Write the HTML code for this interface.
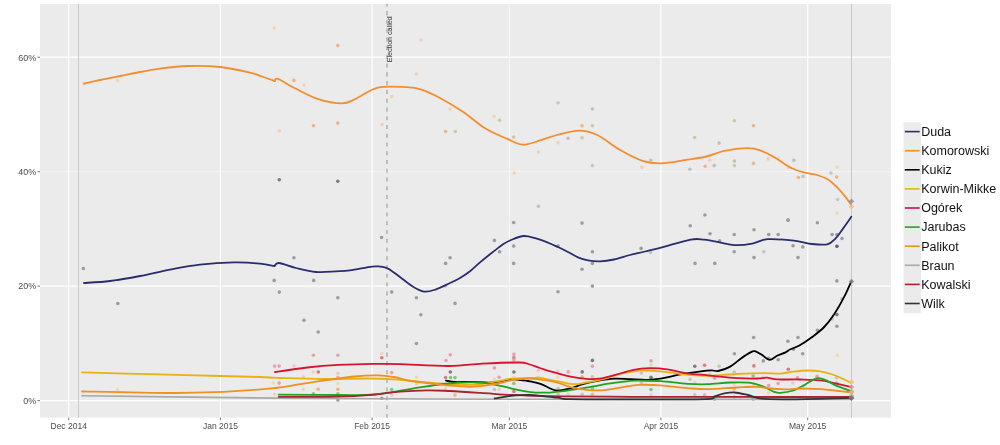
<!DOCTYPE html>
<html><head><meta charset="utf-8"><style>
html,body{margin:0;padding:0;background:#fff;width:1000px;height:445px;overflow:hidden}
svg{display:block;font-family:"Liberation Sans",sans-serif;will-change:transform}
</style></head><body>
<svg width="1000" height="445" viewBox="0 0 1000 445">
<rect x="40" y="4" width="851" height="413.6" fill="#ebebeb"/>
<line x1="40" x2="891" y1="400.6" y2="400.6" stroke="#fff" stroke-width="1.2"/>
<line x1="40" x2="891" y1="286.1" y2="286.1" stroke="#fff" stroke-width="1.2"/>
<line x1="40" x2="891" y1="171.7" y2="171.7" stroke="#f3f3f3" stroke-width="1.2"/>
<line x1="40" x2="891" y1="57.2" y2="57.2" stroke="#fff" stroke-width="1.2"/>
<line y1="4" y2="417.6" x1="68.7" x2="68.7" stroke="#fff" stroke-width="1.2"/>
<line y1="4" y2="417.6" x1="220.4" x2="220.4" stroke="#fff" stroke-width="1.2"/>
<line y1="4" y2="417.6" x1="372.1" x2="372.1" stroke="#fff" stroke-width="1.2"/>
<line y1="4" y2="417.6" x1="509.4" x2="509.4" stroke="#f5f5f5" stroke-width="1.2"/>
<line y1="4" y2="417.6" x1="660.9" x2="660.9" stroke="#fff" stroke-width="1.2"/>
<line y1="4" y2="417.6" x1="807.7" x2="807.7" stroke="#fff" stroke-width="1.2"/>
<line y1="4" y2="417.6" x1="78.5" x2="78.5" stroke="#c8c8c8" stroke-width="1"/>
<line y1="4" y2="417.6" x1="851.5" x2="851.5" stroke="#c8c8c8" stroke-width="1"/>
<line y1="4" y2="417.6" x1="387" x2="387" stroke="#999" stroke-width="1.1" stroke-dasharray="4.1,4.657" stroke-dashoffset="1.7"/>
<text transform="translate(392.3,62.3) rotate(-90)" font-size="7.1" fill="#4a4a4a" stroke="#4a4a4a" stroke-width="0.1" textLength="46" lengthAdjust="spacingAndGlyphs">Election called</text>
<circle cx="84.0" cy="83.6" r="1.8" fill="#f0d2b6"/>
<circle cx="117.6" cy="389.6" r="1.8" fill="#ebdcaa"/>
<circle cx="83.8" cy="392.0" r="1.8" fill="#f0d2b6"/>
<circle cx="117.5" cy="80.4" r="1.8" fill="#f0d2b6"/>
<circle cx="274.3" cy="28.0" r="1.8" fill="#f0d2b6"/>
<circle cx="337.8" cy="45.6" r="1.8" fill="#f2b286"/>
<circle cx="293.9" cy="80.4" r="1.8" fill="#f2b286"/>
<circle cx="304.0" cy="85.3" r="1.8" fill="#f0d2b6"/>
<circle cx="420.9" cy="40.0" r="1.8" fill="#f0d2b6"/>
<circle cx="416.4" cy="74.1" r="1.8" fill="#f0d2b6"/>
<circle cx="391.7" cy="96.6" r="1.8" fill="#f0d2b6"/>
<circle cx="279.3" cy="131.0" r="1.8" fill="#f0d2b6"/>
<circle cx="313.5" cy="125.8" r="1.8" fill="#f2b286"/>
<circle cx="337.8" cy="123.1" r="1.8" fill="#f2b286"/>
<circle cx="382.0" cy="124.7" r="1.8" fill="#f0d2b6"/>
<circle cx="279.3" cy="179.8" r="1.8" fill="#7c7c7c"/>
<circle cx="337.8" cy="181.3" r="1.8" fill="#7c7c7c"/>
<circle cx="450.1" cy="109.0" r="1.8" fill="#f0d2b6"/>
<circle cx="445.6" cy="131.5" r="1.8" fill="#f2b286"/>
<circle cx="455.3" cy="131.5" r="1.8" fill="#cec7a6"/>
<circle cx="494.0" cy="116.2" r="1.8" fill="#ebdcaa"/>
<circle cx="499.6" cy="120.2" r="1.8" fill="#cec7a6"/>
<circle cx="513.7" cy="137.1" r="1.8" fill="#cec7a6"/>
<circle cx="558.0" cy="102.7" r="1.8" fill="#cec7a6"/>
<circle cx="592.4" cy="109.0" r="1.8" fill="#c2bfbb"/>
<circle cx="582.0" cy="125.8" r="1.8" fill="#f2b286"/>
<circle cx="592.4" cy="125.8" r="1.8" fill="#cec7a6"/>
<circle cx="558.0" cy="142.7" r="1.8" fill="#f0d2b6"/>
<circle cx="568.1" cy="138.2" r="1.8" fill="#c2bfbb"/>
<circle cx="582.0" cy="137.8" r="1.8" fill="#cec7a6"/>
<circle cx="538.4" cy="152.1" r="1.8" fill="#f0d2b6"/>
<circle cx="592.4" cy="165.6" r="1.8" fill="#cec7a6"/>
<circle cx="514.2" cy="173.0" r="1.8" fill="#f0d2b6"/>
<circle cx="734.4" cy="120.7" r="1.8" fill="#cec7a6"/>
<circle cx="753.5" cy="125.8" r="1.8" fill="#f2b286"/>
<circle cx="694.6" cy="137.5" r="1.8" fill="#cec7a6"/>
<circle cx="719.1" cy="143.1" r="1.8" fill="#c2bfbb"/>
<circle cx="650.8" cy="160.2" r="1.8" fill="#c2bfbb"/>
<circle cx="641.8" cy="167.4" r="1.8" fill="#f0d2b6"/>
<circle cx="689.9" cy="169.2" r="1.8" fill="#c2bfbb"/>
<circle cx="705.2" cy="166.3" r="1.8" fill="#f2b286"/>
<circle cx="709.7" cy="160.2" r="1.8" fill="#f0d2b6"/>
<circle cx="714.2" cy="165.6" r="1.8" fill="#c2bfbb"/>
<circle cx="734.4" cy="161.1" r="1.8" fill="#c2bfbb"/>
<circle cx="734.4" cy="165.6" r="1.8" fill="#cec7a6"/>
<circle cx="753.5" cy="163.4" r="1.8" fill="#f2b286"/>
<circle cx="768.1" cy="158.9" r="1.8" fill="#f0d2b6"/>
<circle cx="778.2" cy="158.0" r="1.8" fill="#f0d2b6"/>
<circle cx="788.3" cy="167.4" r="1.8" fill="#f0d2b6"/>
<circle cx="793.9" cy="160.2" r="1.8" fill="#c2bfbb"/>
<circle cx="798.4" cy="177.5" r="1.8" fill="#f2b286"/>
<circle cx="802.9" cy="176.4" r="1.8" fill="#c4c4c4"/>
<circle cx="831.0" cy="173.0" r="1.8" fill="#c4c4c4"/>
<circle cx="837.3" cy="167.0" r="1.8" fill="#ebdcaa"/>
<circle cx="836.7" cy="177.0" r="1.8" fill="#f2b286"/>
<circle cx="837.6" cy="199.5" r="1.8" fill="#c4c4c4"/>
<circle cx="837.2" cy="213.0" r="1.8" fill="#f0d2b6"/>
<circle cx="788.0" cy="220.1" r="1.8" fill="#9c9c9c"/>
<circle cx="817.4" cy="222.8" r="1.8" fill="#9c9c9c"/>
<circle cx="83.4" cy="268.5" r="1.8" fill="#9c9c9c"/>
<circle cx="117.8" cy="303.5" r="1.8" fill="#9c9c9c"/>
<circle cx="381.6" cy="237.5" r="1.8" fill="#9c9c9c"/>
<circle cx="293.9" cy="257.8" r="1.8" fill="#9c9c9c"/>
<circle cx="274.2" cy="280.4" r="1.8" fill="#9c9c9c"/>
<circle cx="313.7" cy="280.4" r="1.8" fill="#9c9c9c"/>
<circle cx="279.3" cy="292.1" r="1.8" fill="#9c9c9c"/>
<circle cx="337.8" cy="297.8" r="1.8" fill="#9c9c9c"/>
<circle cx="391.7" cy="292.1" r="1.8" fill="#9c9c9c"/>
<circle cx="416.4" cy="297.8" r="1.8" fill="#9c9c9c"/>
<circle cx="304.0" cy="320.3" r="1.8" fill="#9c9c9c"/>
<circle cx="318.2" cy="332.0" r="1.8" fill="#9c9c9c"/>
<circle cx="420.9" cy="314.7" r="1.8" fill="#9c9c9c"/>
<circle cx="416.4" cy="343.5" r="1.8" fill="#9c9c9c"/>
<circle cx="538.4" cy="206.3" r="1.8" fill="#c2bfbb"/>
<circle cx="513.7" cy="222.5" r="1.8" fill="#9c9c9c"/>
<circle cx="582.0" cy="223.1" r="1.8" fill="#9c9c9c"/>
<circle cx="494.4" cy="240.4" r="1.8" fill="#9c9c9c"/>
<circle cx="513.7" cy="246.1" r="1.8" fill="#9c9c9c"/>
<circle cx="499.6" cy="251.7" r="1.8" fill="#9c9c9c"/>
<circle cx="558.0" cy="246.1" r="1.8" fill="#9c9c9c"/>
<circle cx="450.1" cy="257.8" r="1.8" fill="#9c9c9c"/>
<circle cx="445.6" cy="263.4" r="1.8" fill="#9c9c9c"/>
<circle cx="513.7" cy="263.4" r="1.8" fill="#9c9c9c"/>
<circle cx="592.4" cy="251.7" r="1.8" fill="#9c9c9c"/>
<circle cx="592.4" cy="263.4" r="1.8" fill="#9c9c9c"/>
<circle cx="582.0" cy="269.2" r="1.8" fill="#9c9c9c"/>
<circle cx="592.4" cy="286.1" r="1.8" fill="#9c9c9c"/>
<circle cx="558.0" cy="291.7" r="1.8" fill="#9c9c9c"/>
<circle cx="445.6" cy="286.1" r="1.8" fill="#c4c4c4"/>
<circle cx="455.0" cy="303.4" r="1.8" fill="#9c9c9c"/>
<circle cx="641.1" cy="248.4" r="1.8" fill="#9c9c9c"/>
<circle cx="650.6" cy="252.4" r="1.8" fill="#c4c4c4"/>
<circle cx="704.9" cy="215.0" r="1.8" fill="#9c9c9c"/>
<circle cx="690.2" cy="225.7" r="1.8" fill="#9c9c9c"/>
<circle cx="710.0" cy="233.7" r="1.8" fill="#9c9c9c"/>
<circle cx="719.6" cy="240.7" r="1.8" fill="#9c9c9c"/>
<circle cx="734.2" cy="234.5" r="1.8" fill="#9c9c9c"/>
<circle cx="734.2" cy="251.7" r="1.8" fill="#9c9c9c"/>
<circle cx="754.0" cy="229.7" r="1.8" fill="#9c9c9c"/>
<circle cx="754.0" cy="257.6" r="1.8" fill="#9c9c9c"/>
<circle cx="768.7" cy="234.5" r="1.8" fill="#9c9c9c"/>
<circle cx="778.2" cy="234.5" r="1.8" fill="#9c9c9c"/>
<circle cx="763.7" cy="251.7" r="1.8" fill="#c4c4c4"/>
<circle cx="788.1" cy="220.2" r="1.8" fill="#9c9c9c"/>
<circle cx="793.1" cy="245.8" r="1.8" fill="#9c9c9c"/>
<circle cx="802.8" cy="246.9" r="1.8" fill="#9c9c9c"/>
<circle cx="798.0" cy="257.6" r="1.8" fill="#9c9c9c"/>
<circle cx="695.0" cy="263.4" r="1.8" fill="#9c9c9c"/>
<circle cx="714.8" cy="263.4" r="1.8" fill="#9c9c9c"/>
<circle cx="832.1" cy="234.5" r="1.8" fill="#9a9ab8"/>
<circle cx="836.9" cy="234.5" r="1.8" fill="#9a9ab8"/>
<circle cx="842.0" cy="238.5" r="1.8" fill="#9a9ab8"/>
<circle cx="836.9" cy="246.2" r="1.8" fill="#5c5c8a"/>
<circle cx="836.9" cy="280.9" r="1.8" fill="#9c9c9c"/>
<circle cx="841.8" cy="298.7" r="1.8" fill="#c4c4c4"/>
<circle cx="836.9" cy="314.6" r="1.8" fill="#7c7c7c"/>
<circle cx="832.1" cy="318.9" r="1.8" fill="#c4c4c4"/>
<circle cx="836.9" cy="326.3" r="1.8" fill="#9c9c9c"/>
<circle cx="817.5" cy="330.3" r="1.8" fill="#9c9c9c"/>
<circle cx="753.7" cy="337.5" r="1.8" fill="#9c9c9c"/>
<circle cx="798.0" cy="337.5" r="1.8" fill="#9c9c9c"/>
<circle cx="787.9" cy="341.3" r="1.8" fill="#9c9c9c"/>
<circle cx="793.5" cy="349.2" r="1.8" fill="#9c9c9c"/>
<circle cx="734.4" cy="353.7" r="1.8" fill="#9c9c9c"/>
<circle cx="802.7" cy="353.7" r="1.8" fill="#9c9c9c"/>
<circle cx="763.3" cy="360.9" r="1.8" fill="#9c9c9c"/>
<circle cx="768.7" cy="358.2" r="1.8" fill="#9c9c9c"/>
<circle cx="778.2" cy="359.8" r="1.8" fill="#9c9c9c"/>
<circle cx="753.9" cy="365.9" r="1.8" fill="#dd7a7a"/>
<circle cx="313.4" cy="355.2" r="1.8" fill="#e8a0ae"/>
<circle cx="337.9" cy="355.2" r="1.8" fill="#e8a0ae"/>
<circle cx="274.6" cy="366.1" r="1.8" fill="#e8a0ae"/>
<circle cx="279.2" cy="366.1" r="1.8" fill="#e8a0ae"/>
<circle cx="294.0" cy="366.1" r="1.8" fill="#efc6cd"/>
<circle cx="313.2" cy="372.0" r="1.8" fill="#f0d2b6"/>
<circle cx="318.3" cy="372.0" r="1.8" fill="#dd7a7a"/>
<circle cx="337.9" cy="373.2" r="1.8" fill="#efc6cd"/>
<circle cx="337.9" cy="377.2" r="1.8" fill="#f2b286"/>
<circle cx="303.3" cy="377.0" r="1.8" fill="#efc6cd"/>
<circle cx="273.3" cy="383.1" r="1.8" fill="#ebdcaa"/>
<circle cx="279.2" cy="383.1" r="1.8" fill="#e8a0ae"/>
<circle cx="303.3" cy="389.3" r="1.8" fill="#f0d2b6"/>
<circle cx="318.1" cy="389.3" r="1.8" fill="#f2b286"/>
<circle cx="337.9" cy="389.3" r="1.8" fill="#f2b286"/>
<circle cx="337.9" cy="383.6" r="1.8" fill="#ebdcaa"/>
<circle cx="274.6" cy="394.5" r="1.8" fill="#f0d2b6"/>
<circle cx="313.4" cy="393.9" r="1.8" fill="#8cbf8c"/>
<circle cx="337.9" cy="393.9" r="1.8" fill="#8cbf8c"/>
<circle cx="337.9" cy="400.0" r="1.8" fill="#9c9c9c"/>
<circle cx="381.8" cy="353.8" r="1.8" fill="#f0d2b6"/>
<circle cx="381.8" cy="357.8" r="1.8" fill="#dd7a7a"/>
<circle cx="391.7" cy="372.6" r="1.8" fill="#e8a0ae"/>
<circle cx="391.7" cy="389.5" r="1.8" fill="#8cbf8c"/>
<circle cx="391.7" cy="395.1" r="1.8" fill="#efc6cd"/>
<circle cx="381.8" cy="398.2" r="1.8" fill="#9c9c9c"/>
<circle cx="416.6" cy="377.3" r="1.8" fill="#ebdcaa"/>
<circle cx="416.6" cy="384.1" r="1.8" fill="#f0d2b6"/>
<circle cx="450.3" cy="354.7" r="1.8" fill="#e8a0ae"/>
<circle cx="446.0" cy="360.5" r="1.8" fill="#e8a0ae"/>
<circle cx="450.3" cy="372.0" r="1.8" fill="#7c7c7c"/>
<circle cx="445.6" cy="377.6" r="1.8" fill="#dd7a7a"/>
<circle cx="450.6" cy="377.6" r="1.8" fill="#8cbf8c"/>
<circle cx="455.0" cy="377.6" r="1.8" fill="#8cbf8c"/>
<circle cx="445.6" cy="388.4" r="1.8" fill="#f0d2b6"/>
<circle cx="455.0" cy="395.1" r="1.8" fill="#f2b286"/>
<circle cx="513.9" cy="354.4" r="1.8" fill="#e8a0ae"/>
<circle cx="513.9" cy="357.8" r="1.8" fill="#dd7a7a"/>
<circle cx="513.9" cy="360.1" r="1.8" fill="#e8a0ae"/>
<circle cx="494.4" cy="367.9" r="1.8" fill="#e8a0ae"/>
<circle cx="513.9" cy="372.0" r="1.8" fill="#7c7c7c"/>
<circle cx="499.1" cy="377.3" r="1.8" fill="#e8a0ae"/>
<circle cx="494.4" cy="379.4" r="1.8" fill="#ebdcaa"/>
<circle cx="513.9" cy="377.3" r="1.8" fill="#ebdcaa"/>
<circle cx="513.9" cy="383.4" r="1.8" fill="#8cbf8c"/>
<circle cx="494.4" cy="389.5" r="1.8" fill="#c4c4c4"/>
<circle cx="499.1" cy="389.5" r="1.8" fill="#f0d2b6"/>
<circle cx="513.9" cy="391.5" r="1.8" fill="#dd7a7a"/>
<circle cx="538.2" cy="370.6" r="1.8" fill="#efc6cd"/>
<circle cx="538.2" cy="377.3" r="1.8" fill="#f0d2b6"/>
<circle cx="557.7" cy="371.3" r="1.8" fill="#efc6cd"/>
<circle cx="557.7" cy="377.3" r="1.8" fill="#ebdcaa"/>
<circle cx="568.2" cy="371.9" r="1.8" fill="#e8a0ae"/>
<circle cx="582.2" cy="371.9" r="1.8" fill="#7c7c7c"/>
<circle cx="592.4" cy="360.4" r="1.8" fill="#7c7c7c"/>
<circle cx="592.4" cy="366.2" r="1.8" fill="#e8a0ae"/>
<circle cx="582.2" cy="376.9" r="1.8" fill="#f2b286"/>
<circle cx="592.4" cy="376.9" r="1.8" fill="#cec7a6"/>
<circle cx="558.1" cy="388.5" r="1.8" fill="#cec7a6"/>
<circle cx="592.4" cy="388.5" r="1.8" fill="#8cbf8c"/>
<circle cx="558.1" cy="394.3" r="1.8" fill="#cec7a6"/>
<circle cx="568.2" cy="394.3" r="1.8" fill="#f0d2b6"/>
<circle cx="582.2" cy="394.3" r="1.8" fill="#cec7a6"/>
<circle cx="592.4" cy="394.3" r="1.8" fill="#f2b286"/>
<circle cx="651.0" cy="360.9" r="1.8" fill="#e8a0ae"/>
<circle cx="651.0" cy="364.9" r="1.8" fill="#f0d2b6"/>
<circle cx="641.3" cy="373.0" r="1.8" fill="#cec7a6"/>
<circle cx="651.0" cy="377.3" r="1.8" fill="#7c7c7c"/>
<circle cx="641.3" cy="382.5" r="1.8" fill="#c4c4c4"/>
<circle cx="651.0" cy="389.5" r="1.8" fill="#8cbf8c"/>
<circle cx="651.0" cy="394.9" r="1.8" fill="#efc6cd"/>
<circle cx="694.8" cy="366.3" r="1.8" fill="#7c7c7c"/>
<circle cx="704.6" cy="365.2" r="1.8" fill="#dd7a7a"/>
<circle cx="719.1" cy="366.3" r="1.8" fill="#cec7a6"/>
<circle cx="690.1" cy="379.4" r="1.8" fill="#cec7a6"/>
<circle cx="709.6" cy="374.0" r="1.8" fill="#efc6cd"/>
<circle cx="714.3" cy="378.0" r="1.8" fill="#e8a0ae"/>
<circle cx="694.8" cy="382.5" r="1.8" fill="#f0d2b6"/>
<circle cx="694.8" cy="394.9" r="1.8" fill="#c4c4c4"/>
<circle cx="704.6" cy="394.9" r="1.8" fill="#c4c4c4"/>
<circle cx="734.3" cy="372.0" r="1.8" fill="#cec7a6"/>
<circle cx="714.7" cy="378.1" r="1.8" fill="#e8a0ae"/>
<circle cx="734.3" cy="384.1" r="1.8" fill="#ebdcaa"/>
<circle cx="734.3" cy="388.9" r="1.8" fill="#f2b286"/>
<circle cx="753.2" cy="376.0" r="1.8" fill="#8cbf8c"/>
<circle cx="753.2" cy="383.5" r="1.8" fill="#efc6cd"/>
<circle cx="763.3" cy="377.4" r="1.8" fill="#efc6cd"/>
<circle cx="768.7" cy="385.5" r="1.8" fill="#e8a0ae"/>
<circle cx="778.2" cy="383.5" r="1.8" fill="#e8a0ae"/>
<circle cx="768.7" cy="392.9" r="1.8" fill="#ebdcaa"/>
<circle cx="788.3" cy="369.3" r="1.8" fill="#dd7a7a"/>
<circle cx="714.7" cy="399.0" r="1.8" fill="#9c9c9c"/>
<circle cx="753.2" cy="399.0" r="1.8" fill="#9c9c9c"/>
<circle cx="734.3" cy="397.0" r="1.8" fill="#c4c4c4"/>
<circle cx="837.4" cy="355.4" r="1.8" fill="#ebdcaa"/>
<circle cx="797.5" cy="377.7" r="1.8" fill="#e8a0ae"/>
<circle cx="792.8" cy="383.1" r="1.8" fill="#efc6cd"/>
<circle cx="817.1" cy="376.3" r="1.8" fill="#e8a0ae"/>
<circle cx="836.7" cy="377.7" r="1.8" fill="#cec7a6"/>
<circle cx="836.7" cy="383.1" r="1.8" fill="#e8a0ae"/>
<path d="M84.0,283.0 C88.3,282.7 100.7,282.2 110.0,281.0 C119.3,279.8 130.0,277.9 140.0,276.0 C150.0,274.1 160.0,271.5 170.0,269.6 C180.0,267.7 189.3,265.8 200.0,264.6 C210.7,263.4 224.0,262.6 234.0,262.4 C244.0,262.2 253.3,263.0 260.0,263.6 C266.7,264.2 272.0,265.6 274.4,266.0" fill="none" stroke="#2a2c6c" stroke-width="1.8" stroke-linejoin="round" stroke-linecap="round"/>
<path d="M274.4,266.0 C275.2,265.5 275.4,262.7 279.0,263.0 C282.6,263.3 289.8,266.5 296.0,268.0 C302.2,269.5 309.3,271.4 316.0,272.0 C322.7,272.6 330.3,271.7 336.0,271.4 C341.7,271.1 344.0,271.2 350.0,270.4 C356.0,269.6 367.0,267.2 372.0,266.6 C377.0,266.0 377.3,266.3 380.0,266.6 C382.7,266.9 384.7,266.9 388.0,268.6 C391.3,270.3 396.0,274.1 400.0,277.0 C404.0,279.9 408.0,283.6 412.0,286.0 C416.0,288.4 420.0,291.0 424.0,291.6 C428.0,292.2 431.7,290.8 436.0,289.4 C440.3,288.0 446.0,284.9 450.0,283.0 C454.0,281.1 456.7,280.0 460.0,278.0 C463.3,276.0 466.7,273.8 470.0,271.2 C473.3,268.6 476.7,265.2 480.0,262.4 C483.3,259.6 487.3,256.3 490.0,254.2 C492.7,252.1 494.0,251.1 496.0,249.6 C498.0,248.1 499.7,246.5 502.0,245.0 C504.3,243.5 506.3,242.0 510.0,240.5 C513.7,239.0 519.0,236.2 524.0,236.0 C529.0,235.8 534.3,237.8 540.0,239.6 C545.7,241.4 553.3,244.9 558.0,247.0 C562.7,249.1 564.7,250.3 568.0,252.0 C571.3,253.7 574.7,255.9 578.0,257.3 C581.3,258.7 584.3,259.6 588.0,260.3 C591.7,261.0 595.7,261.4 600.0,261.3 C604.3,261.2 609.0,260.6 614.0,259.5 C619.0,258.4 624.8,256.3 630.0,255.0 C635.2,253.7 639.7,252.8 645.0,251.5 C650.3,250.2 654.4,249.3 662.0,247.3 C669.6,245.3 683.6,240.9 690.6,239.6 C697.6,238.3 699.8,239.3 703.8,239.6 C707.8,239.9 709.7,240.5 714.8,241.4 C719.9,242.3 728.4,244.7 734.6,245.1 C740.8,245.5 746.7,244.6 752.2,243.6 C757.7,242.6 760.6,239.7 767.6,239.2 C774.6,238.7 786.6,239.9 794.0,240.7 C801.4,241.5 806.5,243.4 812.0,244.0 C817.5,244.6 823.4,245.2 827.3,244.3 C831.2,243.4 832.6,241.4 835.2,238.8 C837.8,236.2 840.3,232.3 843.0,228.6 C845.7,224.9 849.9,218.8 851.3,216.8" fill="none" stroke="#2a2c6c" stroke-width="1.8" stroke-linejoin="round" stroke-linecap="round"/>
<path d="M84.0,83.6 C86.7,83.0 94.0,81.3 100.0,80.0 C106.0,78.7 113.3,77.3 120.0,76.0 C126.7,74.7 133.3,73.2 140.0,72.0 C146.7,70.8 152.0,69.6 160.0,68.6 C168.0,67.6 178.0,66.3 188.0,66.0 C198.0,65.7 209.7,65.9 220.0,67.0 C230.3,68.1 243.0,71.0 250.0,72.6 C257.0,74.2 257.9,75.1 262.0,76.5 C266.1,77.9 272.6,80.3 274.7,81.1" fill="none" stroke="#f28e2e" stroke-width="1.8" stroke-linejoin="round" stroke-linecap="round"/>
<path d="M274.7,81.1 C275.2,80.7 274.6,77.7 278.0,78.9 C281.4,80.1 288.4,85.0 295.0,88.3 C301.6,91.6 309.6,96.4 317.4,98.9 C325.2,101.4 335.6,103.4 342.0,103.4 C348.4,103.4 349.6,101.5 355.6,98.9 C361.6,96.3 369.4,89.5 378.0,87.6 C386.6,85.6 399.9,86.9 407.0,87.2 C414.1,87.5 415.3,87.6 420.8,89.4 C426.3,91.2 433.1,94.3 440.0,98.0 C446.9,101.7 455.0,106.5 462.5,111.5 C470.0,116.5 477.5,123.7 485.0,128.3 C492.5,132.9 501.1,136.2 507.4,138.9 C513.7,141.6 517.4,144.5 523.0,144.7 C528.6,144.9 535.4,141.8 541.0,140.2 C546.6,138.6 550.5,136.6 556.9,135.0 C563.3,133.4 572.6,130.6 579.3,130.6 C586.0,130.6 590.5,131.8 597.3,135.0 C604.0,138.2 612.1,145.3 619.8,149.7 C627.5,154.1 636.5,158.9 643.5,161.2 C650.5,163.5 654.4,163.5 661.5,163.3 C668.6,163.1 678.5,161.0 686.0,159.9 C693.5,158.8 700.0,158.0 706.4,156.5 C712.8,155.0 717.6,152.3 724.4,150.9 C731.1,149.5 740.9,148.3 746.9,148.2 C752.9,148.1 755.4,148.7 760.3,150.4 C765.1,152.1 770.8,155.3 776.0,158.3 C781.2,161.3 786.9,165.8 791.8,168.2 C796.7,170.6 801.1,171.6 805.3,172.7 C809.5,173.8 813.2,173.9 817.0,175.0 C820.8,176.1 824.6,177.4 828.0,179.5 C831.4,181.6 834.8,185.1 837.6,187.8 C840.4,190.5 842.4,193.0 844.7,195.9 C847.0,198.8 850.2,203.5 851.3,205.0" fill="none" stroke="#f28e2e" stroke-width="1.8" stroke-linejoin="round" stroke-linecap="round"/>
<path d="M446.0,380.7 C447.5,380.9 451.0,381.8 455.0,382.0 C459.0,382.2 464.2,381.8 470.0,381.9 C475.8,382.0 484.5,382.8 490.0,382.6 C495.5,382.5 499.0,381.6 503.0,381.0 C507.0,380.4 511.0,379.4 514.0,379.3 C517.0,379.2 518.3,379.9 521.0,380.2 C523.7,380.5 526.6,380.7 530.0,381.4 C533.4,382.1 536.9,382.7 541.2,384.2 C545.5,385.7 551.1,389.6 555.8,390.4 C560.5,391.1 564.8,389.7 569.3,388.7 C573.8,387.7 578.1,385.5 582.8,384.2 C587.5,382.9 592.1,381.7 597.4,380.8 C602.6,379.9 608.9,378.9 614.3,378.6 C619.7,378.3 624.5,379.0 630.0,379.2 C635.5,379.4 641.9,379.9 647.0,379.8 C652.1,379.7 654.8,379.6 660.4,378.7 C666.0,377.8 673.9,375.6 680.6,374.4 C687.4,373.2 695.7,372.0 700.9,371.3 C706.1,370.6 708.7,370.4 711.6,370.3 C714.5,370.2 715.0,371.6 718.1,371.0 C721.2,370.4 726.4,368.7 730.2,366.6 C734.0,364.5 737.6,360.9 741.0,358.5 C744.4,356.1 748.2,353.6 750.5,352.4 C752.8,351.2 752.7,350.8 754.5,351.1 C756.3,351.4 758.8,352.9 761.3,354.4 C763.8,355.8 766.7,359.6 769.4,359.8 C772.1,360.0 774.8,356.7 777.5,355.5 C780.2,354.3 783.5,353.4 785.6,352.4 C787.7,351.4 787.7,350.6 790.0,349.5 C792.3,348.4 795.8,347.5 799.4,345.5 C803.0,343.5 807.7,340.4 811.8,337.3 C815.9,334.2 820.5,330.8 824.2,327.0 C827.9,323.2 830.7,319.6 834.0,314.6 C837.3,309.6 841.1,302.8 844.0,297.2 C846.9,291.6 850.2,283.8 851.4,281.1" fill="none" stroke="#000000" stroke-width="1.8" stroke-linejoin="round" stroke-linecap="round"/>
<path d="M82.0,372.4 C93.3,372.7 126.9,373.6 150.0,374.2 C173.1,374.8 202.3,375.5 220.6,376.0 C238.9,376.5 250.1,376.7 260.0,377.0 C269.9,377.3 269.5,377.7 280.0,378.0 C290.5,378.3 308.0,378.9 323.0,379.0 C338.0,379.1 358.2,378.4 370.0,378.5 C381.8,378.6 386.8,378.9 393.7,379.3 C400.6,379.7 402.8,380.2 411.5,381.0 C420.2,381.8 435.5,383.4 446.0,384.0 C456.5,384.6 466.1,385.2 474.4,384.8 C482.7,384.4 489.5,382.7 495.6,381.7 C501.7,380.7 505.1,379.3 510.8,378.7 C516.5,378.1 525.1,378.1 530.0,378.0 C534.9,377.9 536.2,377.5 540.0,377.9 C543.8,378.3 547.0,379.2 552.5,380.3 C558.0,381.4 567.1,383.8 572.7,384.2 C578.3,384.6 581.2,383.3 586.2,382.5 C591.2,381.7 597.4,380.6 603.0,379.2 C608.6,377.8 613.8,375.4 620.0,374.0 C626.2,372.6 633.5,371.1 640.2,370.6 C646.9,370.2 653.7,370.7 660.4,371.3 C667.1,371.9 673.9,373.3 680.6,374.0 C687.4,374.7 696.0,375.4 700.9,375.7 C705.8,376.0 704.0,376.1 710.0,375.8 C716.0,375.5 728.0,374.4 737.0,374.0 C746.0,373.6 756.8,373.2 764.0,373.1 C771.2,373.0 775.1,373.9 780.0,373.6 C784.9,373.4 789.0,372.1 793.5,371.6 C798.0,371.1 802.5,370.6 807.0,370.5 C811.5,370.4 816.0,370.6 820.5,371.3 C825.0,372.1 830.0,373.6 834.0,375.0 C838.0,376.4 841.9,378.3 844.8,379.7 C847.7,381.1 850.4,382.5 851.5,383.1" fill="none" stroke="#e6b312" stroke-width="1.8" stroke-linejoin="round" stroke-linecap="round"/>
<path d="M275.0,372.0 C280.4,371.2 296.6,368.7 307.2,367.5 C317.8,366.3 327.7,365.5 338.7,364.9 C349.7,364.3 363.1,364.0 373.3,363.9 C383.5,363.8 387.4,363.8 400.0,364.1 C412.6,364.5 435.5,366.1 449.2,366.0 C462.9,365.9 470.6,364.2 482.2,363.6 C493.8,363.0 510.9,362.4 518.9,362.5 C526.9,362.6 526.5,363.6 530.0,364.5 C533.5,365.4 536.2,366.8 540.0,368.0 C543.8,369.2 547.6,370.5 552.5,371.9 C557.4,373.3 563.7,375.1 569.3,376.3 C574.9,377.5 581.1,378.4 586.2,378.8 C591.3,379.2 595.0,379.2 599.7,378.6 C604.4,378.0 608.7,376.6 614.3,375.2 C619.9,373.8 627.6,371.1 633.5,369.9 C639.4,368.7 644.0,368.3 649.6,368.2 C655.2,368.1 660.9,368.4 667.2,369.3 C673.5,370.2 680.7,372.3 687.4,373.3 C694.1,374.3 702.2,374.7 707.6,375.3 C713.0,375.9 715.1,376.2 720.0,376.7 C724.9,377.2 730.8,377.8 737.0,378.1 C743.2,378.4 752.2,378.6 757.2,378.5 C762.2,378.4 763.3,377.6 766.7,377.7 C770.1,377.8 771.9,379.1 777.5,379.4 C783.1,379.7 793.0,379.3 800.2,379.5 C807.4,379.7 814.9,379.8 820.5,380.4 C826.1,381.0 828.8,382.0 834.0,383.1 C839.2,384.2 848.6,386.4 851.5,387.1" fill="none" stroke="#d8122f" stroke-width="1.8" stroke-linejoin="round" stroke-linecap="round"/>
<path d="M278.6,394.6 C288.6,394.7 322.6,395.0 338.7,395.0 C354.8,395.0 362.9,395.5 375.0,394.5 C387.1,393.5 400.2,390.6 411.5,388.8 C422.8,387.1 433.2,385.1 443.0,384.0 C452.8,382.9 462.4,382.4 470.3,382.4 C478.2,382.4 483.9,382.8 490.6,383.8 C497.4,384.8 504.1,386.9 510.8,388.3 C517.5,389.7 525.0,391.5 531.0,392.2 C537.0,392.9 541.4,392.8 546.9,392.6 C552.4,392.4 557.2,391.8 563.7,391.0 C570.2,390.2 578.7,388.8 586.2,387.6 C593.7,386.4 601.4,384.8 608.7,383.7 C616.0,382.6 624.8,381.3 630.0,380.8 C635.2,380.3 635.1,380.6 640.2,380.7 C645.3,380.8 652.5,380.6 660.4,381.1 C668.3,381.6 679.5,383.3 687.4,383.8 C695.3,384.3 700.5,384.4 707.6,384.2 C714.7,384.0 723.1,382.7 730.2,382.5 C737.4,382.3 744.9,382.1 750.5,382.8 C756.1,383.5 760.2,385.3 764.0,386.8 C767.8,388.3 770.7,390.6 773.4,391.6 C776.1,392.6 776.9,393.1 780.2,392.9 C783.6,392.7 789.5,391.8 793.5,390.5 C797.5,389.2 800.5,387.1 804.3,385.1 C808.1,383.1 813.0,379.2 816.4,378.3 C819.8,377.4 821.1,378.4 824.5,379.7 C827.9,380.9 832.2,383.9 836.7,385.8 C841.2,387.7 849.0,390.3 851.5,391.2" fill="none" stroke="#1fa41f" stroke-width="1.8" stroke-linejoin="round" stroke-linecap="round"/>
<path d="M82.0,391.4 C96.7,391.7 148.0,392.9 170.0,393.0 C192.0,393.1 199.3,392.8 214.0,392.2 C228.7,391.6 247.0,390.4 258.0,389.6 C269.0,388.8 274.4,388.1 280.0,387.4 C285.6,386.7 284.3,386.7 291.5,385.6 C298.7,384.5 312.5,382.1 323.0,380.6 C333.5,379.1 345.2,377.4 354.4,376.5 C363.6,375.6 371.4,375.3 378.0,375.4 C384.6,375.5 388.1,376.1 393.7,377.0 C399.3,377.9 403.3,379.7 411.5,381.0 C419.7,382.3 435.1,383.9 443.0,384.8 C450.9,385.7 454.1,385.8 458.7,386.1 C463.2,386.4 465.9,386.9 470.3,386.8 C474.7,386.7 480.1,386.2 485.0,385.6 C489.9,385.0 495.7,383.9 500.0,383.0 C504.3,382.1 507.5,381.0 510.8,380.3 C514.1,379.6 516.8,379.3 520.0,379.0 C523.2,378.7 524.6,378.2 530.0,378.6 C535.4,379.0 545.4,379.9 552.5,381.4 C559.6,382.9 567.1,386.2 572.7,387.6 C578.3,389.0 581.7,389.3 586.2,389.8 C590.7,390.3 595.0,390.6 599.7,390.4 C604.4,390.2 609.2,389.4 614.3,388.7 C619.3,387.9 625.7,386.5 630.0,385.9 C634.3,385.2 635.1,384.9 640.2,384.8 C645.3,384.7 652.5,384.8 660.4,385.4 C668.3,385.9 679.5,387.5 687.4,388.1 C695.3,388.7 699.3,389.3 707.6,389.2 C715.9,389.1 728.7,387.9 737.0,387.5 C745.3,387.1 751.6,386.6 757.2,386.8 C762.8,387.0 765.2,388.1 770.7,388.5 C776.2,388.9 785.1,389.3 790.0,389.3 C794.9,389.3 795.1,388.5 800.2,388.5 C805.3,388.5 813.8,388.7 820.5,389.1 C827.2,389.6 835.5,390.6 840.7,391.2 C845.9,391.8 849.7,392.3 851.5,392.5" fill="none" stroke="#f0901e" stroke-width="1.8" stroke-linejoin="round" stroke-linecap="round"/>
<path d="M82.0,395.8 C115.0,396.2 227.0,397.7 280.0,398.2 C333.0,398.7 363.3,398.6 400.0,398.8 C436.7,399.0 424.8,399.1 500.0,399.2 C575.2,399.3 792.9,399.4 851.5,399.4" fill="none" stroke="#a8a8a8" stroke-width="1.6" stroke-linejoin="round" stroke-linecap="round"/>
<path d="M278.6,396.8 C288.6,396.8 323.5,396.9 338.7,396.6 C353.9,396.3 359.8,395.8 370.0,395.0 C380.2,394.2 390.5,392.4 400.0,391.6 C409.5,390.8 418.9,390.4 427.2,390.3 C435.5,390.2 441.1,390.6 450.0,391.0 C458.9,391.4 470.3,392.2 480.4,392.9 C490.5,393.5 500.9,394.4 510.8,394.9 C520.7,395.4 531.2,395.7 540.0,395.9 C548.8,396.1 548.7,396.1 563.7,396.3 C578.7,396.5 607.3,396.7 630.0,396.8 C652.7,396.9 673.3,396.8 700.0,396.8 C726.7,396.8 764.8,397.0 790.0,397.0 C815.2,397.0 841.2,396.8 851.5,396.8" fill="none" stroke="#a82230" stroke-width="1.8" stroke-linejoin="round" stroke-linecap="round"/>
<path d="M494.6,398.4 C498.1,397.9 509.9,396.0 515.8,395.4 C521.7,394.8 526.0,394.8 530.0,394.9 C534.0,395.0 535.3,395.4 540.0,395.9 C544.7,396.4 553.2,397.1 558.1,397.7 C563.0,398.2 557.3,398.9 569.3,399.2 C581.3,399.5 607.4,399.3 630.0,399.3 C652.6,399.3 691.0,399.6 705.0,399.1 C719.0,398.6 711.2,397.3 714.3,396.4 C717.4,395.5 720.2,394.2 723.5,393.6 C726.8,393.0 730.2,392.3 734.3,392.5 C738.3,392.7 743.3,394.0 747.8,395.0 C752.3,396.0 754.3,398.0 761.3,398.7 C768.3,399.4 775.0,399.4 790.0,399.3 C805.0,399.2 841.2,398.1 851.5,397.9" fill="none" stroke="#333333" stroke-width="1.8" stroke-linejoin="round" stroke-linecap="round"/>
<path d="M851.5,198.4 l2.8,2.8 l-2.8,2.8 l-2.8,-2.8z" fill="#8a8ab4" fill-opacity="0.8"/>
<path d="M851.5,204.0 l2.8,2.8 l-2.8,2.8 l-2.8,-2.8z" fill="#f2bd8a" fill-opacity="0.8"/>
<path d="M851.5,278.6 l2.8,2.8 l-2.8,2.8 l-2.8,-2.8z" fill="#8a8a8a" fill-opacity="0.8"/>
<path d="M851.5,379.2 l2.8,2.8 l-2.8,2.8 l-2.8,-2.8z" fill="#e4cc70" fill-opacity="0.8"/>
<path d="M851.5,384.2 l2.8,2.8 l-2.8,2.8 l-2.8,-2.8z" fill="#e090a0" fill-opacity="0.8"/>
<path d="M851.5,388.6 l2.8,2.8 l-2.8,2.8 l-2.8,-2.8z" fill="#90c090" fill-opacity="0.8"/>
<path d="M851.5,389.7 l2.8,2.8 l-2.8,2.8 l-2.8,-2.8z" fill="#f0b070" fill-opacity="0.8"/>
<path d="M851.5,393.0 l2.8,2.8 l-2.8,2.8 l-2.8,-2.8z" fill="#b0b0b0" fill-opacity="0.8"/>
<path d="M851.5,394.8 l2.8,2.8 l-2.8,2.8 l-2.8,-2.8z" fill="#b07070" fill-opacity="0.8"/>
<path d="M851.5,395.4 l2.8,2.8 l-2.8,2.8 l-2.8,-2.8z" fill="#707070" fill-opacity="0.8"/>
<line x1="37.4" x2="40" y1="400.6" y2="400.6" stroke="#555" stroke-width="0.8"/>
<text x="36.2" y="403.9" text-anchor="end" font-size="9" fill="#4d4d4d">0%</text>
<line x1="37.4" x2="40" y1="286.1" y2="286.1" stroke="#555" stroke-width="0.8"/>
<text x="36.2" y="289.4" text-anchor="end" font-size="9" fill="#4d4d4d">20%</text>
<line x1="37.4" x2="40" y1="171.7" y2="171.7" stroke="#555" stroke-width="0.8"/>
<text x="36.2" y="175.0" text-anchor="end" font-size="9" fill="#4d4d4d">40%</text>
<line x1="37.4" x2="40" y1="57.2" y2="57.2" stroke="#555" stroke-width="0.8"/>
<text x="36.2" y="60.5" text-anchor="end" font-size="9" fill="#4d4d4d">60%</text>
<line y1="417.6" y2="420.2" x1="68.7" x2="68.7" stroke="#555" stroke-width="0.8"/>
<text x="68.7" y="429" text-anchor="middle" font-size="8.5" fill="#4d4d4d">Dec 2014</text>
<line y1="417.6" y2="420.2" x1="220.4" x2="220.4" stroke="#555" stroke-width="0.8"/>
<text x="220.4" y="429" text-anchor="middle" font-size="8.5" fill="#4d4d4d">Jan 2015</text>
<line y1="417.6" y2="420.2" x1="372.1" x2="372.1" stroke="#555" stroke-width="0.8"/>
<text x="372.1" y="429" text-anchor="middle" font-size="8.5" fill="#4d4d4d">Feb 2015</text>
<line y1="417.6" y2="420.2" x1="509.4" x2="509.4" stroke="#555" stroke-width="0.8"/>
<text x="509.4" y="429" text-anchor="middle" font-size="8.5" fill="#4d4d4d">Mar 2015</text>
<line y1="417.6" y2="420.2" x1="660.9" x2="660.9" stroke="#555" stroke-width="0.8"/>
<text x="660.9" y="429" text-anchor="middle" font-size="8.5" fill="#4d4d4d">Apr 2015</text>
<line y1="417.6" y2="420.2" x1="807.7" x2="807.7" stroke="#555" stroke-width="0.8"/>
<text x="807.7" y="429" text-anchor="middle" font-size="8.5" fill="#4d4d4d">May 2015</text>
<rect x="903.5" y="122.3" width="17.5" height="191" fill="#ebebeb"/>
<line x1="904.8" x2="919.7" y1="131.6" y2="131.6" stroke="#2a2c6c" stroke-width="1.6"/>
<text x="921.2" y="135.9" font-size="12.5" fill="#111">Duda</text>
<line x1="904.8" x2="919.7" y1="150.7" y2="150.7" stroke="#f28e2e" stroke-width="1.6"/>
<text x="921.2" y="155.0" font-size="12.5" fill="#111">Komorowski</text>
<line x1="904.8" x2="919.7" y1="169.8" y2="169.8" stroke="#000000" stroke-width="1.6"/>
<text x="921.2" y="174.1" font-size="12.5" fill="#111">Kukiz</text>
<line x1="904.8" x2="919.7" y1="188.9" y2="188.9" stroke="#e6b312" stroke-width="1.6"/>
<text x="921.2" y="193.2" font-size="12.5" fill="#111">Korwin-Mikke</text>
<line x1="904.8" x2="919.7" y1="208.0" y2="208.0" stroke="#c4163b" stroke-width="1.6"/>
<text x="921.2" y="212.3" font-size="12.5" fill="#111">Ogórek</text>
<line x1="904.8" x2="919.7" y1="227.1" y2="227.1" stroke="#1fa41f" stroke-width="1.6"/>
<text x="921.2" y="231.4" font-size="12.5" fill="#111">Jarubas</text>
<line x1="904.8" x2="919.7" y1="246.2" y2="246.2" stroke="#f0901e" stroke-width="1.6"/>
<text x="921.2" y="250.5" font-size="12.5" fill="#111">Palikot</text>
<line x1="904.8" x2="919.7" y1="265.3" y2="265.3" stroke="#a8a8a8" stroke-width="1.6"/>
<text x="921.2" y="269.6" font-size="12.5" fill="#111">Braun</text>
<line x1="904.8" x2="919.7" y1="284.4" y2="284.4" stroke="#a82230" stroke-width="1.6"/>
<text x="921.2" y="288.7" font-size="12.5" fill="#111">Kowalski</text>
<line x1="904.8" x2="919.7" y1="303.5" y2="303.5" stroke="#333333" stroke-width="1.6"/>
<text x="921.2" y="307.8" font-size="12.5" fill="#111">Wilk</text>
</svg>
</body></html>
